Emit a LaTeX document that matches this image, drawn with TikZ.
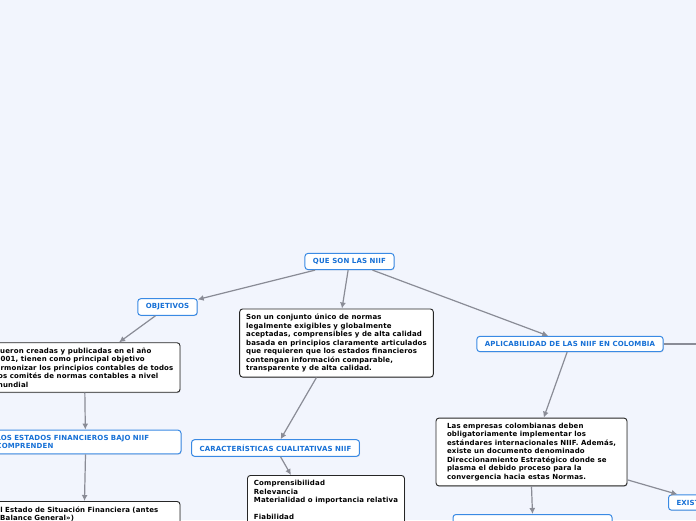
\documentclass[tikz,border=0pt]{standalone}
\usepackage{fontspec}
\setmainfont{DejaVu Sans}[LetterSpace=2]
\usetikzlibrary{arrows.meta,shadows}
\hyphenpenalty=10000
\exhyphenpenalty=10000

\definecolor{mapback}{RGB}{242,245,253}
\definecolor{topicblue}{RGB}{22,112,214}
\definecolor{frameblue}{RGB}{58,138,228}
\definecolor{linkgray}{RGB}{138,140,150}

\tikzset{
  mapfont/.style={font=\bfseries\fontsize{7}{8.5}\selectfont},
  topic/.style={mapfont, draw=frameblue, line width=1pt, fill=white,
    rounded corners=3pt, text=topicblue, inner xsep=8pt, inner ysep=5pt,
    drop shadow={shadow xshift=0.6pt, shadow yshift=-0.8pt, opacity=0.2}},
  note/.style={mapfont, draw=black!85, line width=0.9pt, fill=white,
    rounded corners=3pt, align=left, minimum width=191pt, inner xsep=6.5pt,
    inner ysep=5pt,
    drop shadow={shadow xshift=0.6pt, shadow yshift=-0.8pt, opacity=0.3}},
  link/.style={draw=linkgray, line width=1.2pt, -{Latex[length=6pt,width=6pt]}},
}

\begin{document}
\begin{tikzpicture}[x=1pt,y=-1pt]
  \fill[mapback] (0,0) rectangle (696,520);
  \useasboundingbox (0,0) rectangle (696,520);
  \clip (0,0) rectangle (696,520);

  % main topic and first level
  \node[topic] (que) at (349.5,261.5) {QUE SON LAS NIIF};
  \node[topic] (obj) at (167.5,307) {OBJETIVOS};
  \node[note, minimum width=189pt] (def) at (336.5,343) {Son un conjunto único de normas\\
    legalmente exigibles y globalmente\\aceptadas, comprensibles y de alta calidad\\
    basada en principios claramente articulados\\que requieren que los estados financieros\\
    contengan información comparable,\\transparente y de alta calidad.};
  \node[topic] (apl) at (570,344) {APLICABILIDAD DE LAS NIIF EN COLOMBIA};
  \coordinate (aplout) at (700,344);

  % objetivos branch
  \node[note] (fue) at (84.5,367.5) {Fueron creadas y publicadas en el año\\
    2001, tienen como principal objetivo\\armonizar los principios contables de todos\\
    los comités de normas contables a nivel\\mundial};
  \node[topic, align=left, text width=178pt, inner xsep=6.5pt] (est) at (85.5,442)
    {LOS ESTADOS FINANCIEROS BAJO NIIF\\COMPRENDEN};
  \node[note, anchor=north, text width=178pt, minimum width=0pt] (sit) at (84.5,501)
    {El Estado de Situación Financiera (antes\\«Balance General»)};

  % definition branch
  \node[topic] (car) at (275.5,448) {CARACTERÍSTICAS CUALITATIVAS NIIF};
  \node[note, anchor=north west, minimum width=155pt] (com) at (247,475)
    {Comprensibilidad\\Relevancia\\Materialidad o importancia relativa\\[8.5pt]Fiabilidad};

  % aplicabilidad branch
  \node[note] (emp) at (531.5,452) {Las empresas colombianas deben\\
    obligatoriamente implementar los\\estándares internacionales NIIF. Además,\\
    existe un documento denominado\\Direccionamiento Estratégico donde se\\
    plasma el debido proceso para la\\convergencia hacia estas Normas.};
  \node[topic, text width=58pt, align=left, anchor=west] (exi) at (668,502.5) {EXISTEN};
  \node[topic, anchor=north, minimum width=159pt, minimum height=20pt] (bot) at (532.5,514) {};

  % connectors
  \draw[link] (que) -- (obj);
  \draw[link] (que) -- (def);
  \draw[link] (que) -- (apl);
  \draw[link] (obj) -- (fue);
  \draw[link] (fue) -- (est);
  \draw[link] (est.south) -- (sit.north);
  \draw[link] (def) -- (car);
  \draw[link] (car) -- ([xshift=44pt]com.north west);
  \draw[link] (apl) -- (emp);
  \draw[draw=linkgray, line width=1.2pt] (apl) -- (aplout);
  \draw[link] (emp) -- (exi);
  \draw[link] (emp.south) -- (bot.north);
\end{tikzpicture}
\end{document}
